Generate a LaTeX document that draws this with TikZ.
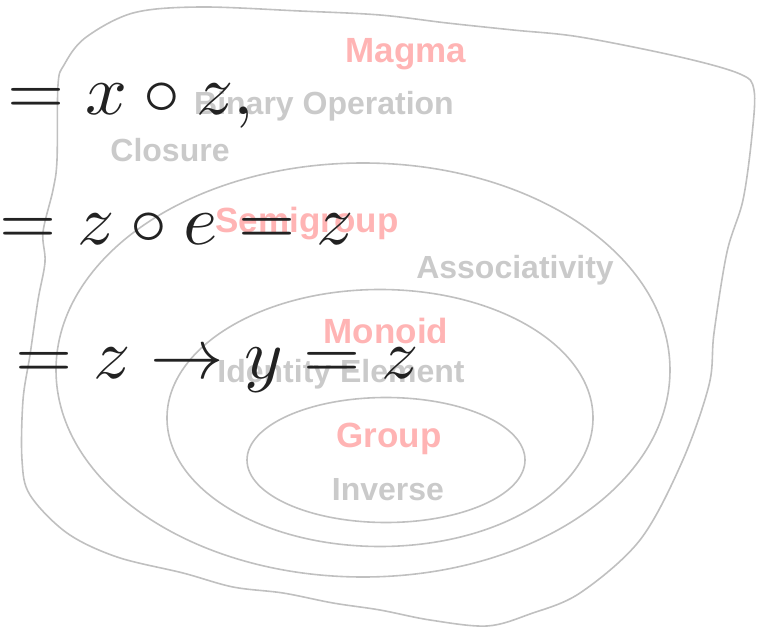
\documentclass[tikz,border=0pt]{standalone}
\usepackage{fontspec}
\setsansfont{Liberation Sans}
\usepackage{tikz}
\usetikzlibrary{shapes.geometric, positioning}
\definecolor{ringgray}{RGB}{192, 192, 192}
\definecolor{namepink}{RGB}{255, 180, 180}
\definecolor{axiomgray}{RGB}{202, 202, 202}
\definecolor{eqblack}{RGB}{34, 34, 34}

\begin{document}
\begin{tikzpicture}[x=1pt, y=-1pt,
  setring/.style={ellipse, draw=ringgray, line width=1.6pt, inner sep=0pt},
  setname/.style={font=\sffamily\bfseries\fontsize{35}{40}\selectfont, text=namepink, anchor=base, inner sep=0pt},
  axiom/.style={font=\sffamily\bfseries\fontsize{32}{38}\selectfont, text=axiomgray, anchor=base, inner sep=0pt},
  eqline/.style={xscale=7.35, yscale=7.1, text=eqblack, anchor=base west, inner sep=0pt}]

\useasboundingbox (0,0) rectangle (763,628);

% Magma (hand drawn outline)
\draw[ringgray, line width=1.6pt] plot[smooth cycle, tension=0.55] coordinates {
  (133,13) (200,7) (300,11) (380,15) (447,23) (513,30) (580,37) (680,57)
  (740,74) (754,90) (752,135) (743,200) (727,252) (714,333) (709,385)
  (682,462) (640,540) (580,593) (530,614) (487,626) (430,620) (380,610)
  (333,603) (283,593) (233,587) (183,573) (117,557) (67,533) (30,495)
  (22,460) (23,400) (30,355) (38,300) (45,262) (43,232) (53,190) (57,160)
  (58,85) (64,65) (85,38)};

% Nested sets
\node[setring, minimum width=614pt, minimum height=414pt] at (363,370) (semigroup) {};
\node[setring, minimum width=426pt, minimum height=257pt] at (380,418) (monoid) {};
\node[setring, minimum width=278pt, minimum height=125pt] at (386,460) (group) {};

% Set names
\node[setname] at (406,63) (magmaname) {Magma};
\node[setname] at (307,233) (semigroupname) {Semigroup};
\node[setname] at (386,343) (monoidname) {Monoid};
\node[setname] at (389,447) (groupname) {Group};

% Axioms
\node[axiom] at (324,115) (binop) {Binary Operation};
\node[axiom] at (170,162) (closure) {Closure};
\node[axiom] at (515,279) (assoc) {Associativity};
\node[axiom] at (341,382) (identity) {Identity Element};
\node[axiom] at (388,500) (inverse) {Inverse};

% Equations on top
\node[eqline] at (6,115) (eqone) {$= x \circ z,$};
\node[eqline] at (-2,245) (eqtwo) {$= z \circ e = z$};
\node[eqline] at (14,378) (eqthree) {$= z \to y = z$};

\end{tikzpicture}
\end{document}
